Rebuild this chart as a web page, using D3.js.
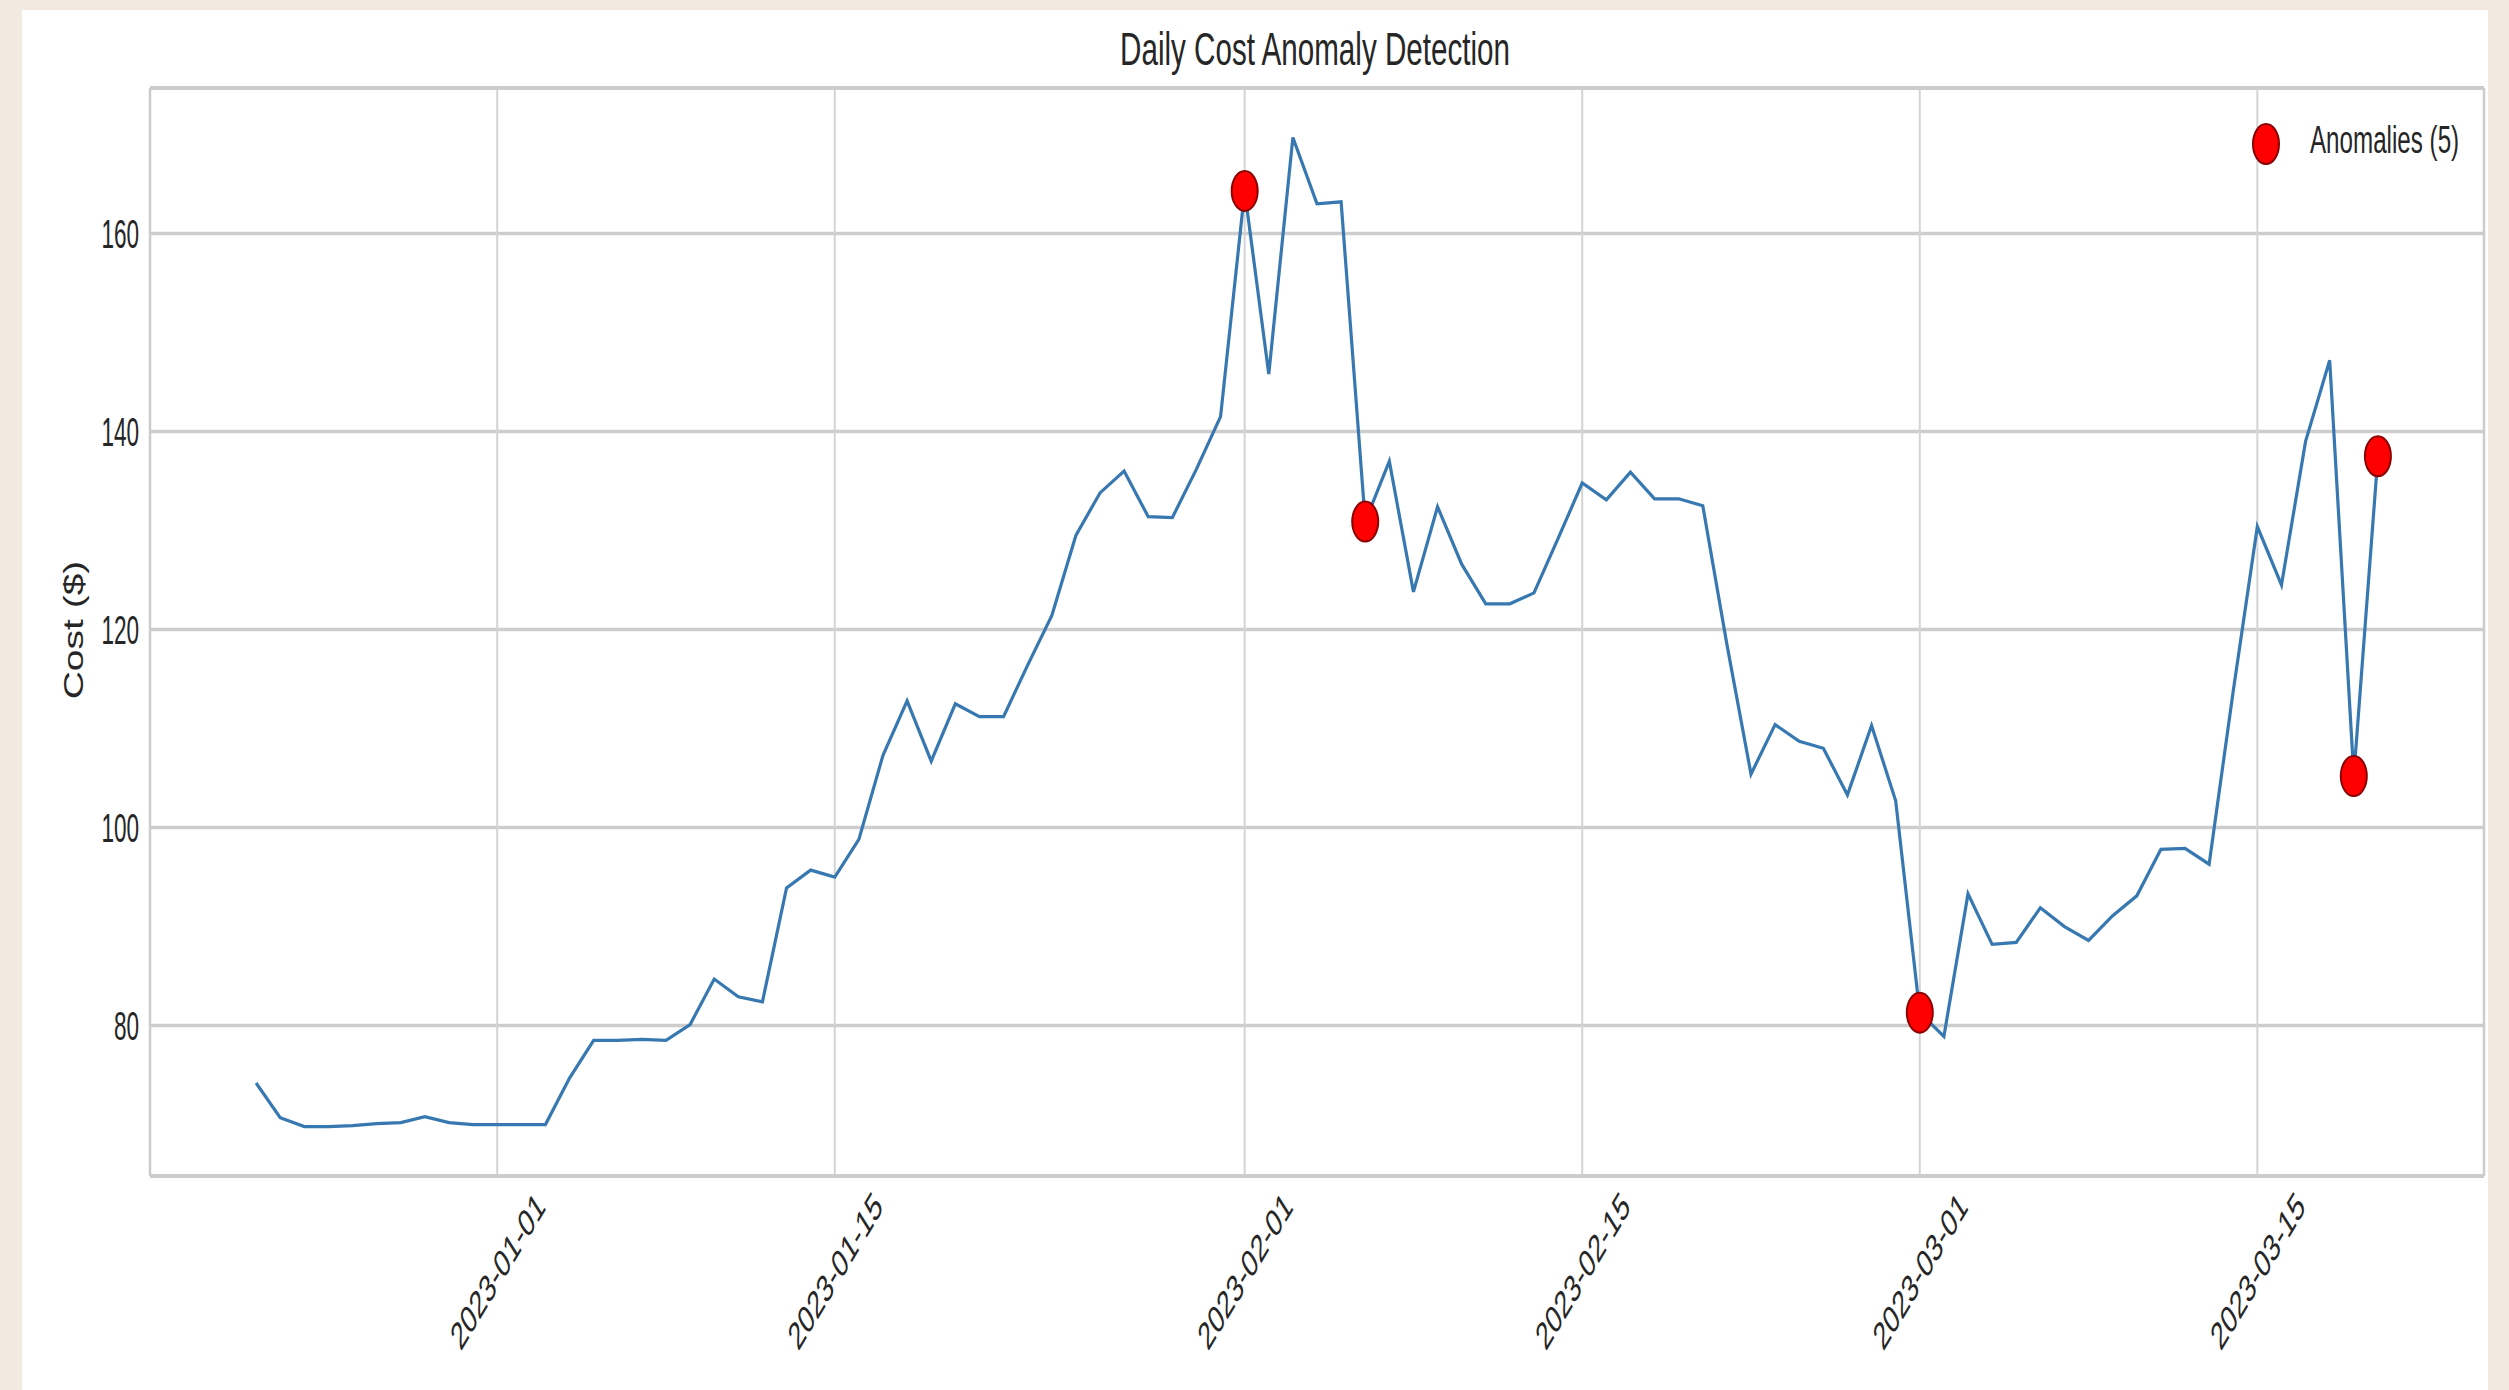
<!DOCTYPE html>
<html>
<head>
<meta charset="utf-8">
<script src="https://cdn.jsdelivr.net/npm/d3@7"></script>
<style>
  html, body { margin: 0; padding: 0; background: #f2e9e1; }
  svg { display: block; }
  text { font-family: "Liberation Sans", Arial, sans-serif; fill: #262626; }
</style>
</head>
<body>
<svg id="chart" width="2509" height="1390"></svg>
<script>
// ---- data ----
const startDate = "2022-12-22";
const costValues = [
  // Dec 22 - Dec 31
  74.2, 70.7, 69.8, 69.8, 69.9, 70.1, 70.2, 70.8, 70.2, 70.0,
  // Jan 1 - Jan 31
  70.0, 70.0, 70.0, 74.7, 78.5, 78.5, 78.6, 78.5, 80.1, 84.7,
  82.9, 82.4, 93.9, 95.7, 95.0, 98.8, 107.3, 112.8, 106.7, 112.5,
  111.2, 111.2, 116.4, 121.4, 129.5, 133.8, 136.0, 131.4, 131.3, 136.2,
  141.5,
  // Feb 1 - Feb 28
  164.3, 145.8, 169.7, 163.0, 163.2, 130.9, 137.0, 123.8, 132.4, 126.6,
  122.6, 122.6, 123.7, 129.2, 134.8, 133.1, 135.9, 133.2, 133.2, 132.5,
  118.5, 105.4, 110.4, 108.7, 108.0, 103.3, 110.3, 102.7,
  // Mar 1 - Mar 20
  81.3, 78.9, 93.3, 88.2, 88.4, 91.9, 90.0, 88.6, 91.1, 93.1,
  97.8, 97.9, 96.3, 113.8, 130.4, 124.5, 139.0, 147.2, 105.2, 137.5
];
const anomalyDates = ["2023-02-01", "2023-02-06", "2023-03-01", "2023-03-19", "2023-03-20"];
const xTickLabels = ["2023-01-01", "2023-01-15", "2023-02-01", "2023-02-15", "2023-03-01", "2023-03-15"];
const yTickValues = [80, 100, 120, 140, 160];
const titleText = "Daily Cost Anomaly Detection";
const yLabelText = "Cost ($)";
const legendLabel = "Anomalies (" + anomalyDates.length + ")";

// ---- build table ----
const parse = d3.utcParse("%Y-%m-%d");
const t0 = parse(startDate);
const series = costValues.map((v, i) => ({ date: d3.utcDay.offset(t0, i), value: v }));
const fmt = d3.utcFormat("%Y-%m-%d");
const anomalies = series.filter(d => anomalyDates.includes(fmt(d.date)));

// ---- layout ----
const W = 2509, H = 1390;
const plot = { left: 150, right: 2484, top: 88, bottom: 1176 };

const svg = d3.select("#chart");
svg.append("rect").attr("x", 0).attr("y", 0).attr("width", W).attr("height", H).attr("fill", "#f2e9e1");
svg.append("rect").attr("x", 22).attr("y", 10).attr("width", 2466).attr("height", H - 10).attr("fill", "#ffffff");

// scales with matplotlib-like 5% margins
const xExt = d3.extent(series, d => d.date);
const xPad = (xExt[1] - xExt[0]) * 0.05;
const x = d3.scaleUtc()
  .domain([new Date(+xExt[0] - xPad), new Date(+xExt[1] + xPad)])
  .range([plot.left, plot.right]);
const yExt = d3.extent(series, d => d.value);
const yPad = (yExt[1] - yExt[0]) * 0.05;
const y = d3.scaleLinear()
  .domain([yExt[0] - yPad, yExt[1] + yPad])
  .range([plot.bottom, plot.top]);

// grid
const xTicks = xTickLabels.map(parse);
const gGrid = svg.append("g");
gGrid.selectAll("line.h").data(yTickValues).join("line")
  .attr("x1", plot.left).attr("x2", plot.right)
  .attr("y1", d => y(d)).attr("y2", d => y(d))
  .attr("stroke", "#cdcdcd").attr("stroke-width", 3.5);
gGrid.selectAll("line.v").data(xTicks).join("line")
  .attr("x1", d => x(d)).attr("x2", d => x(d))
  .attr("y1", plot.top).attr("y2", plot.bottom)
  .attr("stroke", "#d4d4d4").attr("stroke-width", 2);

// frame (spines)
svg.append("line").attr("x1", plot.left).attr("x2", plot.right).attr("y1", plot.top).attr("y2", plot.top)
  .attr("stroke", "#cccccc").attr("stroke-width", 4);
svg.append("line").attr("x1", plot.left).attr("x2", plot.right).attr("y1", plot.bottom).attr("y2", plot.bottom)
  .attr("stroke", "#cccccc").attr("stroke-width", 4);
svg.append("line").attr("x1", plot.left).attr("x2", plot.left).attr("y1", plot.top).attr("y2", plot.bottom)
  .attr("stroke", "#cccccc").attr("stroke-width", 2.5);
svg.append("line").attr("x1", plot.right).attr("x2", plot.right).attr("y1", plot.top).attr("y2", plot.bottom)
  .attr("stroke", "#cccccc").attr("stroke-width", 2.5);

// axes via d3 axis generators (domain/ticks hidden, labels restyled)
const yAxis = svg.append("g").attr("transform", `translate(${plot.left},0)`)
  .call(d3.axisLeft(y).tickValues(yTickValues).tickSize(0).tickPadding(0).tickFormat(d3.format("d")));
yAxis.select(".domain").remove();
yAxis.selectAll(".tick text")
  .attr("x", null).attr("dy", null)
  .attr("text-anchor", "end")
  .attr("dominant-baseline", "central")
  .attr("font-size", 41)
  .attr("font-family", "Liberation Sans, Arial, sans-serif")
  .attr("fill", "#262626")
  .attr("transform", "translate(-11,0) scale(0.55,1)");

const xAxis = svg.append("g").attr("transform", `translate(0,${plot.bottom})`)
  .call(d3.axisBottom(x).tickValues(xTicks).tickSize(0).tickPadding(0).tickFormat(fmt));
xAxis.select(".domain").remove();
xAxis.selectAll(".tick text")
  .attr("y", null).attr("dy", null)
  .attr("text-anchor", "middle")
  .attr("dominant-baseline", "central")
  .attr("font-size", 39)
  .attr("font-family", "Liberation Sans, Arial, sans-serif")
  .attr("fill", "#262626")
  .attr("transform", "translate(0,95) scale(0.62,1) rotate(-46)");

// line
const line = d3.line().x(d => x(d.date)).y(d => y(d.value));
svg.append("path").datum(series)
  .attr("d", line)
  .attr("fill", "none")
  .attr("stroke", "#3778b0")
  .attr("stroke-width", 3.2)
  .attr("stroke-linejoin", "miter");

// anomaly markers
svg.append("g").selectAll("ellipse").data(anomalies).join("ellipse")
  .attr("cx", d => x(d.date)).attr("cy", d => y(d.value))
  .attr("rx", 13).attr("ry", 20)
  .attr("fill", "#ff0000").attr("stroke", "#8b0000").attr("stroke-width", 2);

// legend
const lg = svg.append("g").attr("transform", "translate(2266,144)");
lg.append("ellipse").attr("cx", 0).attr("cy", 0).attr("rx", 13).attr("ry", 20)
  .attr("fill", "#ff0000").attr("stroke", "#8b0000").attr("stroke-width", 2);
lg.append("text").text(legendLabel)
  .attr("dominant-baseline", "central")
  .attr("font-size", 39)
  .attr("transform", "translate(44,-4) scale(0.62,1)");

// title
svg.append("text").text(titleText)
  .attr("text-anchor", "middle")
  .attr("font-size", 47)
  .attr("transform", `translate(${(plot.left + plot.right) / 2 - 2},65) scale(0.63,1)`);

// y label
svg.append("text").text(yLabelText)
  .attr("text-anchor", "middle")
  .attr("dominant-baseline", "central")
  .attr("font-size", 39)
  .attr("transform", "translate(74,630) scale(0.7,1) rotate(-90)");
</script>
</body>
</html>
